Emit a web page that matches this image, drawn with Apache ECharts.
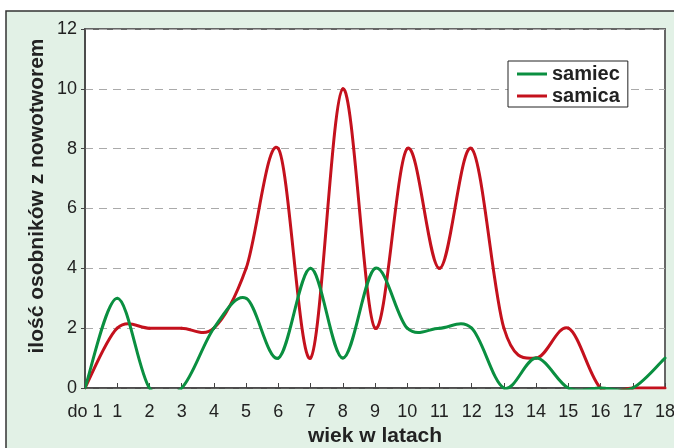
<!DOCTYPE html>
<html><head><meta charset="utf-8">
<script src="https://cdn.jsdelivr.net/npm/echarts@6/dist/echarts.min.js"></script>
<style>html,body{margin:0;padding:0;background:#fff}#c{width:674px;height:448px}</style>
</head><body><div id="c"></div>
<script>
const categories = ['do 1','1','2','3','4','5','6','7','8','9','10','11','12','13','14','15','16','17','18'];
const samiec = [0,3,0,0,2,3,1,4,1,4,2,2,2,0,1,0,0,0,1];
const samica = [0,2,2,2,2,4,8,1,10,2,8,4,8,2,1,2,0,0,0];
const seriesNames = ['samiec','samica'];
const seriesColors = ['#0a8f40','#c4111d'];
const yTicks = {min:0, max:12, interval:2};
const xTitle = 'wiek w latach';
const yTitle = 'ilość osobników z nowotworem';

const font = '"Liberation Sans", Arial, sans-serif';

// Excel-style smoothed line (Catmull-Rom bezier, factor 1/6), drawn segment by segment
function smoothRenderer(arr, color) {
  return function (params, api) {
    const i = params.dataIndex;
    const n = arr.length;
    if (i >= n - 1) return null;
    const P = k => { const j = Math.max(0, Math.min(n - 1, k)); return api.coord([j, arr[j]]); };
    const p0 = P(i - 1), p1 = P(i), p2 = P(i + 1), p3 = P(i + 2);
    const cs = params.coordSys;
    return {
      type: 'group',
      clipPath: {type: 'rect', shape: {x: cs.x, y: cs.y - 2, width: cs.width + 2, height: cs.height + 3.5}},
      children: [{
        type: 'bezierCurve',
        shape: {
          x1: p1[0], y1: p1[1], x2: p2[0], y2: p2[1],
          cpx1: p1[0] + (p2[0] - p0[0]) / 6, cpy1: p1[1] + (p2[1] - p0[1]) / 6,
          cpx2: p2[0] - (p3[0] - p1[0]) / 6, cpy2: p2[1] - (p3[1] - p1[1]) / 6
        },
        style: {stroke: color, lineWidth: 3, fill: null, lineCap: 'round'}
      }]
    };
  };
}

const chart = echarts.init(document.getElementById('c'));
chart.setOption({
  backgroundColor: '#ffffff',
  animation: false,
  graphic: [
    {type: 'rect', z: -10, silent: true,
     shape: {x: 6, y: 11, width: 720, height: 480},
     style: {fill: '#e2f1e6', stroke: '#333', lineWidth: 1.5}},
    {type: 'text', silent: true, x: 37, y: 196, rotation: Math.PI / 2,
     style: {text: yTitle, fill: '#222', font: 'bold 21px ' + font, align: 'center', verticalAlign: 'middle'}}
  ],
  grid: {left: 85, right: 9, top: 29, bottom: 60, show: true, containLabel: false,
    outerBoundsMode: 'none',
    backgroundColor: '#fff', borderColor: '#666', borderWidth: 2},
  legend: {
    left: 508, top: 61, orient: 'vertical',
    data: seriesNames,
    backgroundColor: '#fff', borderColor: '#222', borderWidth: 1,
    padding: [3, 8, 1, 9], itemGap: 2,
    itemWidth: 30, itemHeight: 3, icon: 'rect',
    textStyle: {fontFamily: font, fontWeight: 'bold', fontSize: 20, color: '#222'}
  },
  xAxis: {
    type: 'category', data: categories, boundaryGap: false,
    name: xTitle, nameLocation: 'middle', nameGap: 38,
    nameTextStyle: {fontFamily: font, fontWeight: 'bold', fontSize: 21, color: '#222'},
    axisLine: {lineStyle: {color: '#444', width: 1.5}},
    axisTick: {inside: true, length: 5, lineStyle: {color: '#444'}},
    axisLabel: {fontFamily: font, fontSize: 18, color: '#222', margin: 15, interval: 0},
    splitLine: {show: false}
  },
  yAxis: {
    type: 'value', min: yTicks.min, max: yTicks.max, interval: yTicks.interval,
    axisLine: {show: true, lineStyle: {color: '#444', width: 1.5}},
    axisTick: {show: true, length: 4, lineStyle: {color: '#444'}},
    axisLabel: {fontFamily: font, fontSize: 18, color: '#222', margin: 8},
    splitLine: {show: true, lineStyle: {color: '#aaa', type: [8, 6], width: 1}}
  },
  series: [
    {name: seriesNames[1], type: 'custom', renderItem: smoothRenderer(samica, seriesColors[1]),
     data: samica.map((v, i) => [i, v]), encode: {x: 0, y: 1},
     itemStyle: {color: seriesColors[1]}, z: 2},
    {name: seriesNames[0], type: 'custom', renderItem: smoothRenderer(samiec, seriesColors[0]),
     data: samiec.map((v, i) => [i, v]), encode: {x: 0, y: 1},
     itemStyle: {color: seriesColors[0]}, z: 3}
  ]
});
</script></body></html>
